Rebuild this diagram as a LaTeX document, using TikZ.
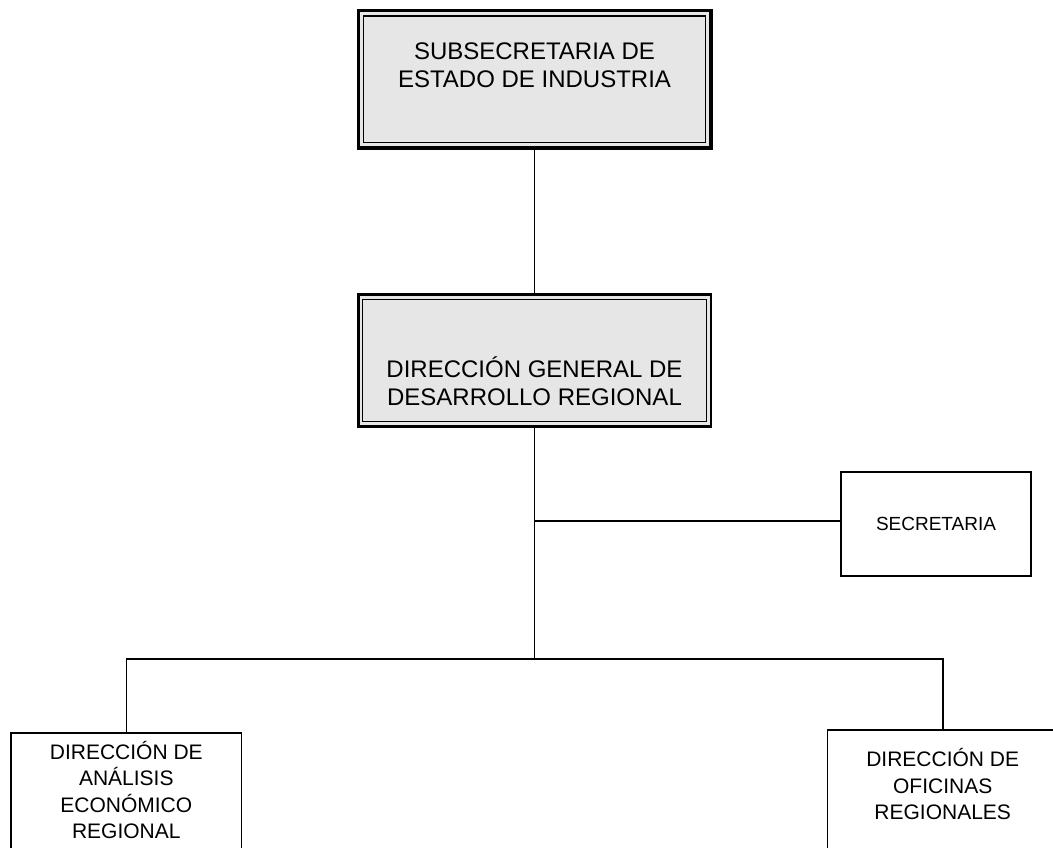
\documentclass[tikz,border=0pt]{standalone}
\usepackage{fontspec}
\setmainfont{Liberation Sans}
\usetikzlibrary{positioning}
\definecolor{boxgray}{RGB}{230,230,230}

\begin{document}
\begin{tikzpicture}[x=1pt, y=-1pt, on grid, line width=1.6pt,
    headbox/.style={draw, fill=boxgray, minimum width=352.5pt, inner sep=0pt, outer sep=0pt},
    unitbox/.style={draw, minimum width=230.5pt, minimum height=140pt, inner sep=0pt, outer sep=0pt},
    bigtext/.style={align=center, font=\fontsize{24}{28}\selectfont},
    unittext/.style={align=center, font=\fontsize{21}{26.5}\selectfont}]
  \clip (0,0) rectangle (1053,847);
  % cabecera
  \node[headbox, line width=3.5pt, minimum height=137.3pt,
        label={[bigtext, yshift=14pt]center:SUBSECRETARIA DE\\ESTADO DE INDUSTRIA}] (subsec) at (534.5,79.1) {};
  \draw[line width=1.3pt] ([shift={(5.5pt,-5.5pt)}]subsec.north west) rectangle ([shift={(-5.5pt,5.5pt)}]subsec.south east);
  \node[headbox, line width=2.5pt, minimum height=131.6pt, below=281.4pt of subsec,
        label={[bigtext, yshift=-20.5pt]center:DIRECCIÓN GENERAL DE\\DESARROLLO REGIONAL}] (dgdr) {};
  \draw[line width=1.2pt] ([shift={(4.5pt,-4.5pt)}]dgdr.north west) rectangle ([shift={(-4.5pt,4.5pt)}]dgdr.south east);
  % unidades
  \node[draw, minimum width=190pt, minimum height=104pt, outer sep=0pt,
        font=\fontsize{19}{23}\selectfont] (secr) at (936,524) {SECRETARIA};
  \node[unitbox, label={[unittext, yshift=13pt]center:DIRECCIÓN DE\\ANÁLISIS\\ECONÓMICO\\REGIONAL}] (analisis) at (126.3,803) {};
  \node[unitbox, label={[unittext, yshift=16pt]center:DIRECCIÓN DE\\OFICINAS\\REGIONALES}] (oficinas) at (942.7,800) {};
  \coordinate (split) at (534.5,521);
  \coordinate (bus) at (534.5,659);
  \draw (subsec) -- (dgdr);
  \draw (dgdr) -- (bus);
  \draw (split) -- (split -| secr.west);
  \draw (analisis.north) |- (bus) -| (oficinas.north);
\end{tikzpicture}
\end{document}
